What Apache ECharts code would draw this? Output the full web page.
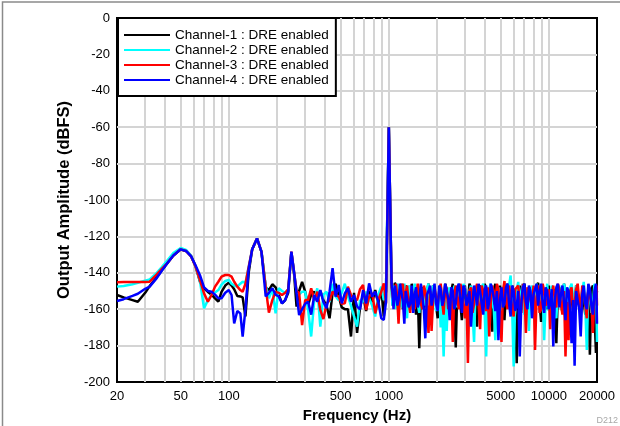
<!DOCTYPE html>
<html><head><meta charset="utf-8">
<script src="https://cdn.jsdelivr.net/npm/echarts@6/dist/echarts.min.js"></script>
<style>html,body{margin:0;padding:0;background:#fff}#c{width:620px;height:426px}</style>
</head><body><div id="c"></div>
<script>
// Frequency grid (Hz)
const freqs = [
  20, 22, 25, 27, 30, 32, 35, 38, 41, 45,
  50, 54, 58, 62, 66, 70, 74, 78, 82, 86,
  90, 95, 100, 104, 108, 113, 118, 122, 127, 133,
  140, 150, 160, 170, 178, 187, 196, 205, 215, 225,
  235, 246, 256, 265, 275, 287,
  300, 313, 327, 342, 357, 373, 390, 408, 426, 445,
  465, 486, 508, 531, 555, 580, 606, 633, 661, 690,
  721, 753, 787, 822, 859, 897, 930, 960, 1000,
  1040, 1055, 1070, 1090, 1110, 1130, 1150, 1175, 1200, 1225, 1250, 1275, 1300, 1330, 1360, 1390, 1420, 1450, 1480,
  1515, 1550, 1585, 1620, 1655, 1690, 1730, 1770, 1810, 1850, 1890, 1930, 1975, 2020, 2065, 2110, 2155, 2200, 2250, 2300,
  2350, 2400, 2455, 2510, 2565, 2620, 2680, 2740, 2800, 2860, 2925, 2990, 3055, 3120, 3190, 3260, 3335, 3410, 3485, 3560,
  3640, 3720, 3805, 3890, 3975, 4060, 4150, 4240, 4335, 4430, 4530, 4630, 4735, 4840, 4950, 5060, 5170, 5280, 5400, 5520,
  5645, 5770, 5900, 6030, 6165, 6300, 6440, 6580, 6730, 6880, 7035, 7190, 7350, 7510, 7680, 7850, 8025, 8200, 8385, 8570,
  8760, 8950, 9150, 9350, 9560, 9770, 9985, 10200, 10430, 10660, 10900, 11140, 11390, 11640, 11900, 12160, 12435, 12710, 12995, 13280,
  13575, 13870, 14180, 14490, 14815, 15140, 15480, 15820, 16175, 16530, 16900, 17270, 17660, 18050, 18455, 18860, 19280, 19700, 19850, 20000
];
// Channel-1 (black), dBFS
const ch1 = [
  -152.2, -153.5, -155, -155.9, -151, -147.3, -143, -138.8, -135, -130.5,
  -127.1, -128, -130.8, -136.5, -144.9, -148.5, -150.5, -152, -154, -155.9,
  -150.5, -147, -145.4, -147, -149, -152.7, -153, -153.5, -164, -140,
  -127, -121.1, -128.5, -148, -149.5, -146.3, -148, -152, -156.8, -155,
  -151, -128.6, -141, -158.6, -150, -145,
  -150.4, -157.7, -152, -150.4, -152.2, -150, -155, -158, -165, -151,
  -146, -153, -159, -160, -160, -175, -151, -173, -159, -152,
  -161, -150, -156, -149.5, -157, -148.5, -164, -150, -60,
  -146, -158, -152, -145.5, -147, -151, -158, -149, -146, -160, -155, -147, -149, -153, -160, -146, -147, -155, -163,
  -150, -181.5, -152, -148, -160, -156, -150, -146, -157, -160, -147, -150, -158, -165, -151, -147, -162, -158, -146, -149,
  -155, -162, -150, -146, -159, -181, -148, -150, -157, -166, -149, -147, -160, -156, -146, -148, -154, -163, -151, -169.6,
  -150, -147, -153, -158, -146, -149, -161, -164, -148, -172.4, -150, -146, -158, -155, -147, -148, -160, -166, -149, -146,
  -155, -160, -147, -150, -162, -189.7, -152, -147, -156, -157, -146, -146, -159, -163, -148, -148, -155, -158, -147, -145.5,
  -157, -167, -150, -149, -155, -160, -147, -146, -161, -155, -149, -178.7, -151, -148, -156, -162, -146, -147, -158, -174,
  -150, -149, -160, -158, -147, -146, -155, -165, -149, -148, -163, -156, -150, -185, -149, -147, -161, -184, -152, -150
];
// Channel-2 (cyan), dBFS
const ch2 = [
  -147.6, -147.2, -146.3, -145.5, -144.3, -143.6, -140.5, -137, -133.5, -129.2,
  -126.4, -127.4, -130.5, -136.5, -144.5, -159.5, -155, -152, -150.8, -149.5,
  -146.5, -144.5, -144, -146, -147, -147.6, -146, -144.9, -145.5, -137,
  -127, -121.1, -128.5, -147, -154, -148.5, -162.3, -148.5, -150, -151,
  -149, -128.6, -140, -150, -152, -150.4,
  -150.4, -160.4, -175, -155, -148.5, -169.6, -152, -150.4, -156, -146,
  -153, -155, -151, -146, -153, -158, -164, -169.6, -155, -156,
  -150.4, -154, -158, -164, -152, -147.6, -155, -150, -60,
  -150, -158, -147, -153, -160, -146, -148, -159, -156, -149, -146, -154, -165, -147, -149, -160, -155, -146, -147,
  -157, -162, -148, -150, -152, -158, -149, -146, -160, -168, -147, -149, -161, -157, -150, -170, -158, -186, -155, -172,
  -150, -148, -156, -160, -147, -150, -159, -146, -152, -158, -146, -149, -155, -164, -150, -147, -162, -178, -148, -151,
  -157, -160, -148, -146, -163, -186, -151, -150, -146, -157, -160, -177, -152, -148, -157, -163, -149, -147, -155, -158,
  -147, -141.5, -160, -191.5, -155, -149, -145, -162, -150, -146, -163, -155, -149, -172, -152, -147, -158, -160, -146, -149,
  -162, -156, -150, -177, -155, -146, -161, -158, -147, -148, -157, -165, -150, -147, -160, -155, -146, -150, -156, -167,
  -148, -146, -153, -159, -147, -148, -157, -162, -150, -145, -159, -182.4, -148, -150, -162, -158, -146, -147, -160, -178
];
// Channel-3 (red), dBFS
const ch3 = [
  -145.2, -145.1, -145, -145, -145, -144.9, -141.4, -138, -134.9, -130.5,
  -127.1, -128, -130.8, -136.6, -144, -151.3, -155.9, -152.2, -147.6, -144.9,
  -142.1, -141.2, -141.2, -142.1, -144.9, -147.6, -149.5, -150.4, -146, -137,
  -127, -121.1, -128.5, -148, -161.9, -155, -150.4, -151, -152.2, -151,
  -149, -128.4, -140, -150, -151, -168.7,
  -155, -155, -148.5, -155, -150.4, -160.4, -165.4, -157, -155, -150.4,
  -152, -153.1, -157, -156.8, -147.6, -152.2, -154, -155, -149, -146.7,
  -160.4, -153, -151, -162.3, -155, -150.4, -145.8, -156.8, -60,
  -148, -147, -156, -150, -146, -155, -168, -149, -150, -146, -158, -151, -147, -156, -162, -148, -149, -160, -155,
  -146, -147, -157, -160, -147, -150, -158, -173, -150, -172, -155, -148, -147, -158, -150, -146, -156, -163, -147, -149,
  -160, -156, -149, -178, -151, -147, -155, -160, -146, -150, -158, -165, -152, -189.5, -150, -148, -162, -157, -149, -146,
  -158, -171, -147, -150, -155, -161, -148, -175, -157, -147, -150, -158, -146, -149, -162, -178, -150, -144.5, -156, -160,
  -147, -148, -159, -164, -149, -150, -147, -157, -162, -146, -151, -173, -148, -149, -155, -158, -147, -182.4, -153, -147,
  -162, -160, -146, -150, -158, -156, -149, -171, -152, -147, -155, -159, -146, -149, -157, -163, -150, -186, -156, -177,
  -150, -148, -162, -157, -149, -146, -155, -161, -147, -150, -158, -165, -148, -147, -157, -173, -151, -149, -147, -158
];
// Channel-4 (blue), dBFS
const ch4 = [
  -155.5, -154.5, -152.7, -151.5, -148.8, -147.6, -143.5, -139, -135, -130.5,
  -127.1, -128, -130.8, -136, -141.3, -148, -150, -150.4, -152, -154,
  -154, -151, -149.5, -152.2, -167.8, -161, -162.3, -175.1, -160, -138,
  -127, -121.1, -128.5, -153, -151, -148.5, -152, -153, -156.8, -155,
  -150, -128.4, -140, -151.3, -163.2, -160,
  -157, -155.9, -163, -152.2, -155.9, -149.5, -156, -159.5, -150.4, -137.5,
  -153.1, -146.7, -156.8, -151.3, -148.5, -155.9, -152.2, -158.6, -160, -149.5,
  -156.8, -145.8, -153.1, -150.4, -155.9, -165, -165.9, -155.9, -60,
  -146, -151, -160, -147, -148, -158, -155, -146, -147, -156, -168, -150, -150, -159, -157, -147, -162, -152, -148,
  -159, -156, -146, -147, -160, -176, -152, -150, -147, -158, -153, -146, -157, -161, -147, -149, -158, -155, -146, -147,
  -154, -166, -148, -150, -160, -157, -148, -146, -155, -162, -147, -149, -158, -155, -150, -169.6, -156, -147, -152, -158,
  -146, -150, -157, -163, -149, -147, -160, -156, -146, -149, -154, -161, -150, -177, -155, -148, -159, -157, -148, -146,
  -157, -164, -147, -150, -161, -158, -150, -186, -157, -148, -146, -156, -160, -147, -150, -165, -152, -149, -146, -158,
  -150, -146, -157, -162, -148, -150, -160, -157, -149, -180.5, -155, -148, -146, -159, -152, -147, -156, -166, -148, -150,
  -160, -178.7, -155, -191, -150, -149, -160, -175, -152, -147, -157, -160, -146, -149, -158, -163, -150, -146, -152, -168
];
const seriesNames = ['Channel-1 : DRE enabled', 'Channel-2 : DRE enabled', 'Channel-3 : DRE enabled', 'Channel-4 : DRE enabled'];
const seriesColors = ['#000000', '#00ffff', '#ff0000', '#0000ff'];
const xTickLabels = [20, 50, 100, 500, 1000, 5000, 10000, 20000];
const xGridLines = [30, 40, 50, 60, 70, 80, 90, 100, 200, 300, 400, 500, 600, 700, 800, 900, 1000, 2000, 3000, 4000, 5000, 6000, 7000, 8000, 9000, 10000];
const yMin = -200, yMax = 0, yStep = 20;

const FONT = '"Liberation Sans", Arial, Helvetica, sans-serif';
const allData = [ch1, ch2, ch3, ch4];
const chart = echarts.init(document.getElementById('c'), null, {renderer: 'canvas'});
chart.setOption({
  animation: false,
  backgroundColor: '#fff',
  textStyle: {fontFamily: FONT},
  title: {text: 'D212', right: 2, bottom: 1, padding: 0,
    textStyle: {fontSize: 9, color: '#a8a8a8', fontWeight: 'normal', fontFamily: FONT}},
  graphic: [{type: 'rect', silent: true, z: 100,
    shape: {x: 2.5, y: 2, width: 700, height: 500},
    style: {fill: null, stroke: '#8a8a8a', lineWidth: 1.5}}],
  grid: {left: 117, right: 23, top: 18, bottom: 44, show: true, borderColor: '#000', borderWidth: 2,
    backgroundColor: '#fff', containLabel: false, outerBoundsMode: 'none'},
  legend: {orient: 'vertical', left: 118, top: 18, backgroundColor: '#fff', borderColor: '#000', borderWidth: 2,
    borderRadius: 0, padding: [10, 7, 9, 6], itemWidth: 46, itemHeight: 14, itemGap: 1,
    icon: 'path://M0,0H46V2H0Z',
    textStyle: {fontSize: 13.5, color: '#000', fontFamily: FONT}, data: seriesNames},
  xAxis: {type: 'log', logBase: 10, min: 20, max: 20000,
    name: 'Frequency (Hz)', nameLocation: 'middle', nameGap: 22,
    nameTextStyle: {fontSize: 15, fontWeight: 'bold', color: '#000', fontFamily: FONT},
    axisLine: {show: false},
    axisTick: {show: false, customValues: xGridLines},
    axisLabel: {customValues: xTickLabels, formatter: v => String(Math.round(v)), fontSize: 13, color: '#000', margin: 8, fontFamily: FONT},
    splitLine: {show: true, lineStyle: {color: '#d4d4d4', width: 2}}},
  yAxis: {type: 'value', min: yMin, max: yMax, interval: yStep,
    name: 'Output Amplitude (dBFS)', nameLocation: 'middle', nameGap: 42,
    nameTextStyle: {fontSize: 16.5, fontWeight: 'bold', color: '#000', fontFamily: FONT},
    axisLine: {show: false}, axisTick: {show: false},
    axisLabel: {fontSize: 13, color: '#000', margin: 7, fontFamily: FONT},
    splitLine: {show: true, showMinLine: false, showMaxLine: false, lineStyle: {color: '#d4d4d4', width: 2}}},
  series: allData.map((vals, k) => ({
    name: seriesNames[k], type: 'line', symbol: 'none', showSymbol: false,
    lineStyle: {width: 2.5, color: seriesColors[k]}, itemStyle: {color: seriesColors[k]},
    data: freqs.map((f, i) => [f, vals[i]])
  }))
});
</script></body></html>
